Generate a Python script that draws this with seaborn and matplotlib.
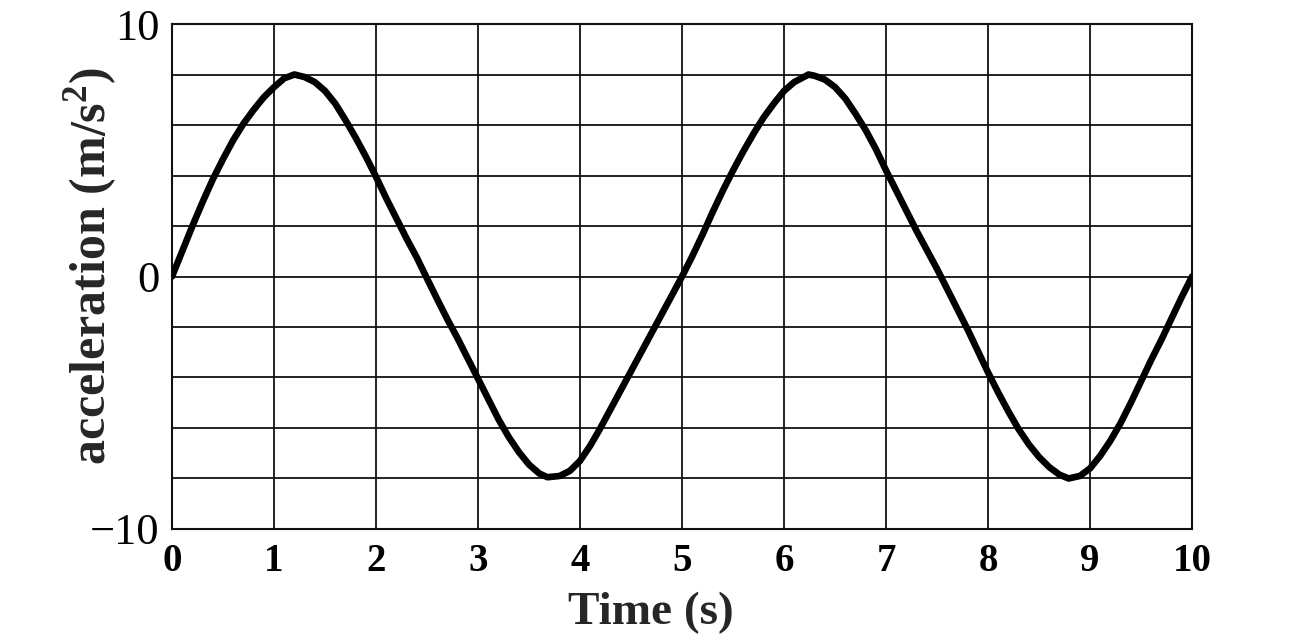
import pandas as pd
import matplotlib.pyplot as plt
import seaborn as sns

# valores (tiempo en s, aceleracion en m/s^2)
tiempo = [0.0, 0.1, 0.2, 0.3, 0.4, 0.5, 0.6, 0.7, 0.8, 0.9, 1.0, 1.1, 1.2, 1.3, 1.4, 1.5,
          1.6, 1.7, 1.8, 1.9, 2.0, 2.1, 2.2, 2.3, 2.4, 2.49, 2.6, 2.7, 2.8, 2.9, 3.0, 3.1,
          3.2, 3.3, 3.4, 3.5, 3.6, 3.68, 3.8, 3.9, 4.0, 4.1, 4.2, 4.3, 4.4, 4.5, 4.6, 4.7,
          4.8, 4.9, 5.0, 5.1, 5.2, 5.3, 5.4, 5.5, 5.6, 5.7, 5.8, 5.9, 6.0, 6.1, 6.24, 6.3,
          6.4, 6.5, 6.6, 6.7, 6.8, 6.9, 7.0, 7.1, 7.2, 7.3, 7.4, 7.5, 7.6, 7.7, 7.8, 7.9,
          8.0, 8.1, 8.2, 8.3, 8.4, 8.5, 8.6, 8.7, 8.79, 8.9, 9.0, 9.1, 9.2, 9.3, 9.4, 9.5,
          9.6, 9.7, 9.8, 9.9, 10.0]
aceleracion = [0.0, 1.0, 2.0, 2.95, 3.85, 4.65, 5.4, 6.05, 6.6, 7.1, 7.5, 7.85, 8.0, 7.9, 7.7, 7.35,
               6.85, 6.2, 5.5, 4.75, 3.95, 3.1, 2.3, 1.5, 0.75, 0.0, -0.9, -1.7, -2.45, -3.25, -4.05, -4.85,
               -5.65, -6.35, -6.95, -7.45, -7.8, -7.95, -7.9, -7.7, -7.3, -6.7, -6.0, -5.25, -4.5, -3.75, -3.0, -2.25,
               -1.5, -0.75, 0.0, 0.8, 1.65, 2.55, 3.4, 4.2, 4.95, 5.65, 6.3, 6.85, 7.35, 7.7, 8.0, 7.95,
               7.8, 7.5, 7.05, 6.45, 5.8, 5.05, 4.2, 3.4, 2.6, 1.8, 1.05, 0.3, -0.5, -1.3, -2.1, -2.95,
               -3.8, -4.6, -5.35, -6.05, -6.65, -7.15, -7.55, -7.85, -8.0, -7.9, -7.6, -7.1, -6.5, -5.8, -5.0, -4.15,
               -3.3, -2.5, -1.65, -0.8, 0.0]

x_ticks = list(range(0, 11))
y_ticks = list(range(-10, 11, 2))
y_labels = ['\u221210', '', '', '', '', '0', '', '', '', '', '10']

sns.set_theme(style='white')
plt.rcParams['font.family'] = ['Liberation Serif', 'DejaVu Serif']
plt.rcParams['mathtext.fontset'] = 'custom'
plt.rcParams['mathtext.rm'] = 'Liberation Serif'
plt.rcParams['mathtext.bf'] = 'Liberation Serif:bold'

df = pd.DataFrame({'Time': tiempo, 'acc': aceleracion})

fig = plt.figure(figsize=(13.14, 6.44), dpi=100)
ax = fig.add_axes([0.1309, 0.1786, 0.7763, 0.7841])

sns.lineplot(data=df, x='Time', y='acc', ax=ax, color='black', linewidth=4.8,
             sort=False, zorder=5, solid_joinstyle='round', solid_capstyle='round')

ax.set_xlim(0, 10)
ax.set_ylim(-10, 10)
ax.set_xticks(x_ticks)
ax.set_xticklabels([str(t) for t in x_ticks], fontsize=28, fontweight='bold')
ax.set_yticks(y_ticks)
ax.set_yticklabels(y_labels, fontsize=32)

ax.grid(True, color='#111111', linewidth=1.3)
ax.set_axisbelow(True)
for s in ax.spines.values():
    s.set_color('#111111')
    s.set_linewidth(1.5)
ax.tick_params(axis='both', direction='out', length=4, width=1.2, color='#111111',
               labelcolor='black')
ax.tick_params(axis='x', pad=6)
ax.tick_params(axis='y', pad=5)

ax.set_xlabel('Time (s)', fontsize=34, fontweight='bold', va='top')
ax.set_ylabel(r'acceleration (m/s$^{\mathbf{2}}$)', fontsize=36, fontweight='bold', va='center')
ax.xaxis.set_label_coords(0.469, -0.125)
ax.yaxis.set_label_coords(-0.080, 0.52)

plt.savefig('out.png', dpi=100)
plt.close()
